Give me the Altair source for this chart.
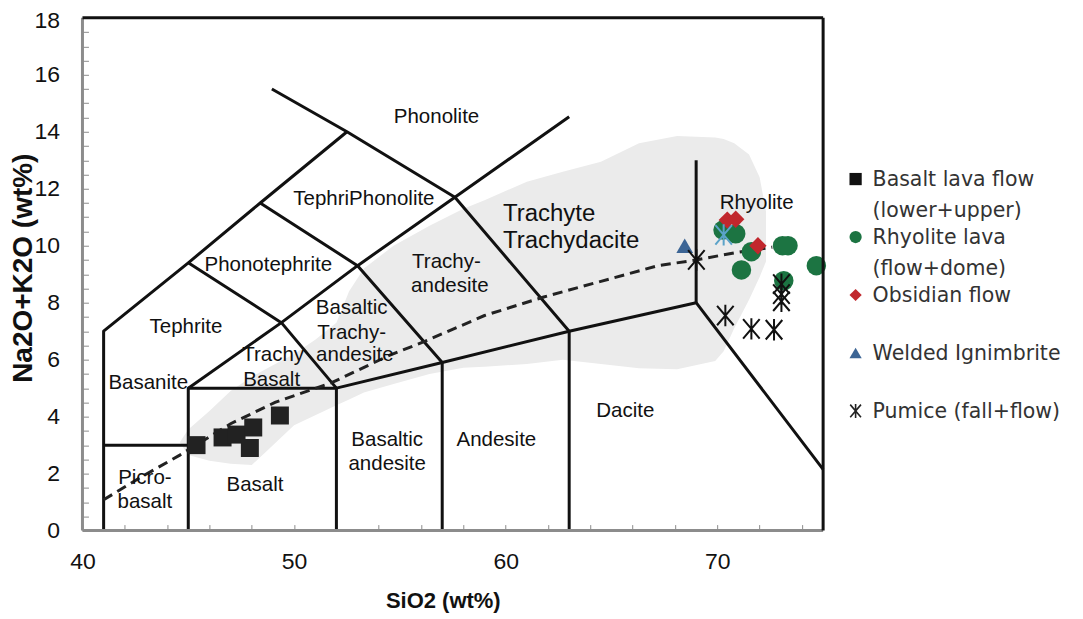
import altair as alt
import pandas as pd

# ---------------- data ----------------
x_domain = [40, 75]
y_domain = [0, 18]
x_tick_values = list(range(40, 76, 2))
y_tick_values = [v / 2 for v in range(0, 37)]

# TAS field boundaries (polylines, SiO2 / Na2O+K2O)
boundaries = [
    [(41, 0), (41, 7), (45, 9.4), (48.4, 11.5), (52.5, 14)],
    [(48.95, 15.5), (52.5, 14), (57.6, 11.7), (63, 7)],
    [(41, 3), (45, 3)],
    [(45, 0), (45, 5), (52, 5)],
    [(45, 5), (49.4, 7.3), (53, 9.3), (57.6, 11.7), (63, 14.53)],
    [(45, 9.4), (49.4, 7.3), (52, 5), (57, 5.9), (63, 7), (69, 8), (75, 2.15)],
    [(48.4, 11.5), (53, 9.3), (57, 5.9), (57, 0)],
    [(52, 5), (52, 0)],
    [(63, 7), (63, 0)],
    [(69, 8), (69, 13)],
]

# alkaline / sub-alkaline divide (dashed)
divide_x = [41.0, 42.7, 44.6, 47.0, 49.1, 51.8, 54.5, 56.2, 59.0, 61.8, 64.5, 67.2, 69.0, 70.8, 72.6]
divide_y = [1.08, 1.85, 2.65, 3.75, 4.5, 5.2, 6.15, 6.65, 7.55, 8.2, 8.75, 9.3, 9.5, 9.75, 9.95]

# grey field of compositions
shade_x = [44.6, 45.0, 46.0, 47.0, 48.0, 49.0, 50.0, 51.0, 52.0, 52.6, 53.3, 54.7, 56.4,
           58.0, 59.0, 61.0, 62.7, 64.5, 66.3, 68.1, 69.9, 70.3, 70.8, 71.5, 72.0, 72.3]
shade_top = [3.1, 3.55, 4.2, 4.9, 5.4, 5.8, 6.2, 6.7, 7.3, 8.4, 9.2, 10.0, 10.7,
             11.3, 11.6, 12.25, 12.6, 12.95, 13.6, 13.85, 13.8, 13.75, 13.6, 13.2, 12.4, 11.2]
shade_bot = [3.1, 2.65, 2.45, 2.35, 2.3, 3.0, 3.7, 4.05, 4.4, 4.6, 4.85, 5.15, 5.5,
             5.72, 5.75, 5.85, 6.0, 5.85, 5.7, 5.66, 5.95, 6.3, 7.1, 8.1, 8.9, 9.45]

# samples
basalt_x = [45.39, 46.62, 47.28, 48.07, 47.91, 49.33]
basalt_y = [3.0, 3.27, 3.37, 3.62, 2.9, 4.04]
rhyolite_x = [70.27, 70.87, 71.61, 71.14, 73.08, 73.34, 74.68, 73.14]
rhyolite_y = [10.55, 10.42, 9.79, 9.15, 10.0, 10.0, 9.30, 8.77]
obsidian_x = [70.47, 70.87, 71.92]
obsidian_y = [10.9, 10.93, 10.0]
ignimbrite_x = [68.46]
ignimbrite_y = [10.0]
pumice_x = [69.01, 70.38, 71.61, 72.68, 73.03, 73.03, 73.03]
pumice_y = [9.5, 7.55, 7.08, 7.05, 8.65, 8.3, 8.05]
pumice2_x = [70.3]
pumice2_y = [10.38]

# field names
region_labels = ["Phonolite", "TephriPhonolite", "Phonotephrite", "Tephrite", "Basanite",
                 "Trachy", "Basalt", "Basaltic", "Trachy-", "andesite", "Trachy-", "andesite",
                 "Rhyolite", "Basaltic", "andesite", "Andesite", "Dacite", "Picro-", "basalt", "Basalt"]
region_x = [56.73, 53.30, 48.78, 44.89, 43.11, 49.01, 48.94, 52.72, 52.72, 52.87, 57.2, 57.36,
            71.86, 54.40, 54.40, 59.56, 65.65, 42.95, 42.95, 48.15]
region_y = [14.53, 11.63, 9.33, 7.13, 5.18, 6.17, 5.27, 7.81, 6.93, 6.17, 9.44, 8.57,
            11.49, 3.19, 2.35, 3.19, 4.21, 1.85, 1.02, 1.61]
big_labels = ["Trachyte", "Trachydacite"]
big_x = [59.87, 59.87]
big_y = [11.1, 10.15]

legend_names = ["Basalt lava flow\n(lower+upper)", "Rhyolite lava\n(flow+dome)",
                "Obsidian flow", "Welded Ignimbrite", "Pumice (fall+flow)"]

# ---------------- styles ----------------
ASTERISK = "M-0.85,-1L0.85,1M0.85,-1L-0.85,1M0,-1.1L0,1.1"
GREEN = "#1c7442"
RED = "#c1272d"
BLUE = "#3c6595"
LIGHTBLUE = "#5ba3c9"
FONT = "Liberation Sans"

W, H = 741, 513

xs = alt.Scale(domain=x_domain, nice=False, zero=False)
ys = alt.Scale(domain=y_domain, nice=False, zero=False)

xaxis = alt.Axis(
    values=x_tick_values,
    labelExpr="datum.value % 10 == 0 ? format(datum.value, 'd') : ''",
    labelOverlap=False, labelFlush=False, domain=False, grid=False,
    tickSize=6, tickColor="#8c8c8c", tickWidth=1, offset=-6,
    labelPadding=20, labelFont=FONT, labelFontSize=23, labelColor="#111",
    title="SiO2 (wt%)", titleFont=FONT, titleFontSize=22, titleFontWeight="bold",
    titleColor="#111", titleX=360.5, titleY=76.3, titleBaseline="middle", titleAlign="center",
)
yaxis = alt.Axis(
    values=y_tick_values,
    labelExpr="datum.value % 2 == 0 ? format(datum.value, 'd') : ''",
    labelOverlap=False, labelFlush=False, domain=False, grid=False,
    tickSize=6, tickColor="#8c8c8c", tickWidth=1, offset=-6,
    labelOffset={"condition": {"test": "datum.value == 18", "value": 2.5}, "value": 0},
    labelPadding=23, labelFont=FONT, labelFontSize=23, labelColor="#111",
    title="Na2O+K2O (wt%)", titleFont=FONT, titleFontSize=28, titleFontWeight="bold",
    titleColor="#111", titleX=-65, titleY=250, titleAngle=270,
    titleBaseline="middle", titleAlign="center",
)


def X(f):
    return alt.X(f, type="quantitative", scale=xs, axis=xaxis)


def Y(f):
    return alt.Y(f, type="quantitative", scale=ys, axis=yaxis)


def pts(xv, yv):
    return pd.DataFrame({"x": xv, "y": yv})


# ---------------- layers ----------------
shade = alt.Chart(pd.DataFrame({"x": shade_x, "top": shade_top, "bot": shade_bot})).mark_area(
    color="#ebebeb"
).encode(x=X("x"), y=Y("top"), y2=alt.Y2("bot"))

rows = []
for i, line in enumerate(boundaries):
    for j, (bx, by) in enumerate(line):
        rows.append({"seg": i, "ord": j, "x": bx, "y": by})
lines = alt.Chart(pd.DataFrame(rows)).mark_line(
    color="#111", strokeWidth=3, strokeJoin="round"
).encode(x=X("x"), y=Y("y"), detail="seg:N", order="ord:Q")

divide = alt.Chart(pts(divide_x, divide_y)).mark_line(
    color="#222", strokeWidth=3, strokeDash=[10, 6]
).encode(x=X("x"), y=Y("y"), order="x:Q")

labels = alt.Chart(pd.DataFrame({"t": region_labels, "x": region_x, "y": region_y})).mark_text(
    font=FONT, fontSize=20.5, color="#111", align="center", baseline="middle"
).encode(x=X("x"), y=Y("y"), text="t:N")

big = alt.Chart(pd.DataFrame({"t": big_labels, "x": big_x, "y": big_y})).mark_text(
    font=FONT, fontSize=24, color="#111", align="left", baseline="middle"
).encode(x=X("x"), y=Y("y"), text="t:N")

basalt = alt.Chart(pts(basalt_x, basalt_y)).mark_point(
    shape="square", filled=True, color="#222", size=324, opacity=1
).encode(x=X("x"), y=Y("y"))
rhyo = alt.Chart(pts(rhyolite_x, rhyolite_y)).mark_point(
    shape="circle", filled=True, color=GREEN, size=380, opacity=1
).encode(x=X("x"), y=Y("y"))
obs = alt.Chart(pts(obsidian_x, obsidian_y)).mark_point(
    shape="diamond", filled=True, color=RED, size=300, opacity=1
).encode(x=X("x"), y=Y("y"))
ign = alt.Chart(pts(ignimbrite_x, ignimbrite_y)).mark_point(
    shape="triangle-up", filled=True, color=BLUE, size=280, opacity=1
).encode(x=X("x"), y=Y("y"))
pum = alt.Chart(pts(pumice_x, pumice_y)).mark_point(
    shape=ASTERISK, filled=False, color="#111", size=380, strokeWidth=2, opacity=1
).encode(x=X("x"), y=Y("y"))
pum2 = alt.Chart(pts(pumice2_x, pumice2_y)).mark_point(
    shape=ASTERISK, filled=False, color=LIGHTBLUE, size=380, strokeWidth=2, opacity=1
).encode(x=X("x"), y=Y("y"))

frame_left = alt.Chart(pd.DataFrame({"x": [x_domain[0]]})).mark_rule(
    color="#8c8c8c", strokeWidth=3).encode(x=X("x"))
frame_bottom = alt.Chart(pd.DataFrame({"y": [y_domain[0]]})).mark_rule(
    color="#8c8c8c", strokeWidth=3).encode(y=Y("y"))
frame_right = alt.Chart(pd.DataFrame({"x": [x_domain[1]]})).mark_rule(
    color="#111", strokeWidth=3).encode(x=X("x"))
frame_top = alt.Chart(pd.DataFrame({"y": [y_domain[1]]})).mark_rule(
    color="#111", strokeWidth=3).encode(y=Y("y"))

main = alt.layer(shade, lines, divide, labels, big, basalt, rhyo, obs, ign, pum, pum2,
                 frame_left, frame_bottom, frame_right, frame_top)

# ---------------- legend ----------------
leg_y = alt.Scale(domain=legend_names, range=[161.3, 393.3], padding=0)
leg_sym = alt.Chart(pd.DataFrame({"name": legend_names[:4]})).mark_point(
    filled=True, size=150, opacity=1
).encode(
    x=alt.value(773.5),
    y=alt.Y("name:N", scale=leg_y, axis=None),
    shape=alt.Shape("name:N", scale=alt.Scale(domain=legend_names[:4],
                    range=["square", "circle", "diamond", "triangle-up"]), legend=None),
    color=alt.Color("name:N", scale=alt.Scale(domain=legend_names[:4],
                    range=["#111", GREEN, RED, BLUE]), legend=None),
)
leg_star = alt.Chart(pd.DataFrame({"name": legend_names[4:]})).mark_point(
    shape=ASTERISK, filled=False, color="#222", size=160, strokeWidth=1.6, opacity=1
).encode(x=alt.value(773.5), y=alt.Y("name:N", scale=leg_y, axis=None))
leg_text = alt.Chart(pd.DataFrame({"name": legend_names})).mark_text(
    font="DejaVu Sans", fontSize=20.5, color="#333", align="left", baseline="top",
    dy=-9, lineBreak="\n", lineHeight=31
).encode(x=alt.value(790.5), y=alt.Y("name:N", scale=leg_y, axis=None), text="name:N")

legend = alt.layer(leg_sym, leg_star, leg_text)

chart = alt.layer(main, legend).resolve_scale(
    y="independent", color="independent", shape="independent"
).properties(
    width=W, height=H,
    autosize=alt.AutoSizeParams(type="none"),
    padding={"left": 74.5, "top": 9.7, "right": 252, "bottom": 84},
).configure_view(stroke=None)

chart.save("out.html", embed_options={"renderer": "svg", "actions": False})
